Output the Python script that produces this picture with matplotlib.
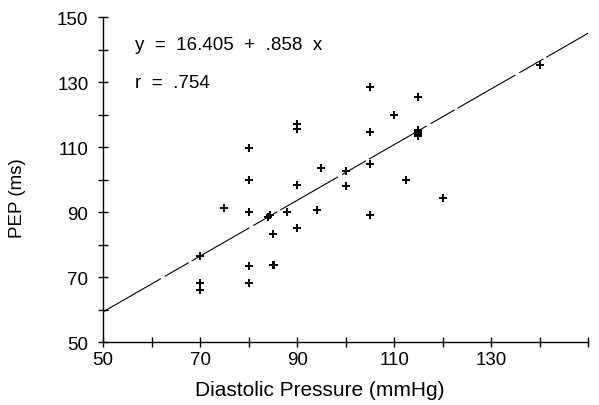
import matplotlib
matplotlib.use("Agg")
import matplotlib.pyplot as plt
import numpy as np

plt.rcParams['font.family'] = ['Liberation Sans', 'DejaVu Sans']

# Data
diastolic = [70, 70, 70, 75, 80, 80, 80, 80, 80, 80,
             84, 84.5, 85, 85, 85.3, 88, 90, 90, 90, 90,
             94, 95, 100, 100, 105, 105, 105, 105, 110, 112.5,
             115, 115, 115, 115, 115, 120, 140]
pep = [76.5, 68.2, 66.1, 91.4, 109.8, 99.8, 89.9, 73.5, 68.2, 89.9,
       88.6, 89.0, 83.4, 73.8, 73.8, 89.9, 117.0, 115.5, 98.4, 85.1,
       90.8, 103.7, 102.7, 98.1, 128.5, 114.8, 104.8, 89.2, 120.0, 99.8,
       125.4, 114.8, 114.0, 113.5, 115.2, 94.4, 135.2]
intercept = 16.405
slope = 0.858
x_ticks = [50, 60, 70, 80, 90, 100, 110, 120, 130, 140, 150]
x_labels = ['50', '', '70', '', '90', '', '110', '', '130', '', '']
y_ticks = [50, 60, 70, 80, 90, 100, 110, 120, 130, 140, 150]
y_labels = ['50', '', '70', '', '90', '', '110', '', '130', '', '150']
eq_text = "y  =  16.405  +  .858  x"
r_text = "r  =  .754"

fig = plt.figure(figsize=(5.99, 4.06), dpi=100)
ax = fig.add_axes([0.172, 0.155, 0.81, 0.800])

ax.plot(diastolic, pep, linestyle='none', marker='+', color='black',
        markersize=6, markeredgewidth=1.4, clip_on=False)

xl = np.array([50, 150])
ax.plot(xl, intercept + slope * xl, color='black', linewidth=0.8,
        linestyle=(0, (60, 4, 25, 3)))

ax.set_xlim(50, 150)
ax.set_ylim(50, 150)
ax.set_xticks(x_ticks)
ax.set_xticklabels(x_labels)
ax.set_yticks(y_ticks)
ax.set_yticklabels(y_labels)
ax.tick_params(direction='inout', length=7, width=1, labelsize=13.5)
ax.tick_params(axis='x', pad=3)
ax.tick_params(axis='y', pad=7)

for s in ['top', 'right']:
    ax.spines[s].set_visible(False)
for s in ['left', 'bottom']:
    ax.spines[s].set_linewidth(1.0)

ax.set_xlabel('Diastolic Pressure (mmHg)', fontsize=15)
ax.set_ylabel('PEP (ms)', fontsize=13.5)
ax.xaxis.set_label_coords(0.447, -0.118)
ax.yaxis.set_label_coords(-0.159, 0.446)

ax.text(56.6, 141.7, eq_text, fontsize=13.5, va='center', ha='left')
ax.text(56.6, 130.0, r_text, fontsize=13.5, va='center', ha='left')

fig.savefig('out.png', dpi=100)
